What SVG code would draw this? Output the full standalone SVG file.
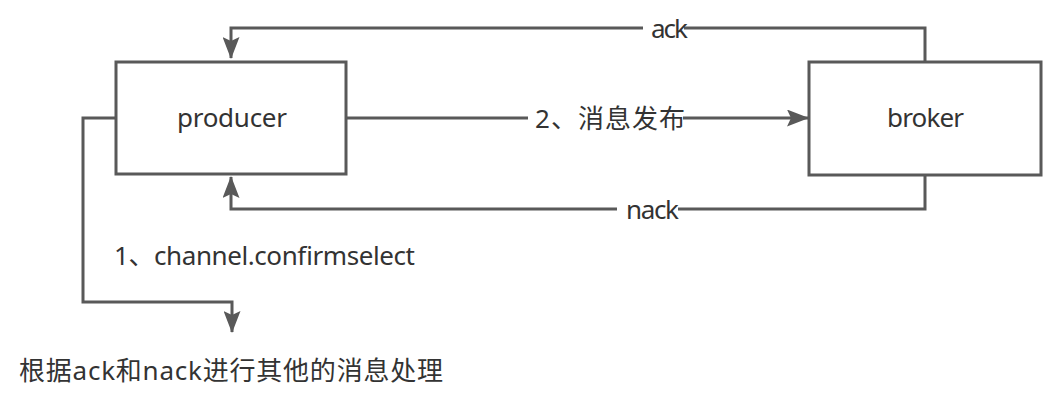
<svg xmlns="http://www.w3.org/2000/svg" width="1057" height="403" viewBox="0 0 1057 403">
<style>
.box{fill:#fff;stroke:#595959;stroke-width:3}
.ln{fill:none;stroke:#595959;stroke-width:3;stroke-linejoin:miter}
text{font-family:"Noto Sans","Noto Sans CJK SC",sans-serif;font-size:26px;fill:#333}
</style>
<defs>
<marker id="arr" viewBox="0 0 22 17" refX="21" refY="8.5" markerWidth="22" markerHeight="17" markerUnits="userSpaceOnUse" orient="auto">
<path d="M0,0 L22,8.5 L0,17 L4,8.5 Z" fill="#595959"/>
</marker>
</defs>
<g id="connectors">
<path class="ln" d="M925,61 V28 H684 M643,28 H231 V58" marker-end="url(#arr)"/>
<path class="ln" d="M347,118 H528 M683,118 H808" marker-end="url(#arr)"/>
<path class="ln" d="M925,175 V209 H678 M617,209 H231 V177" marker-end="url(#arr)"/>
<path class="ln" d="M116,118 H83 V302 H232 V332" marker-end="url(#arr)"/>
<text x="651" y="38" textLength="37">ack</text>
<text x="626" y="219" textLength="53">nack</text>
<text x="535" y="128" textLength="150">2、消息发布</text>
<text x="114" y="265" textLength="301">1、channel.confirmselect</text>
</g>
<g id="producer">
<rect class="box" x="116" y="62" width="230" height="112"/>
<text x="177" y="127" textLength="110">producer</text>
</g>
<g id="broker">
<rect class="box" x="809" y="62" width="232" height="113"/>
<text x="887" y="127" textLength="77">broker</text>
</g>
<g id="result">
<text x="19" y="380" textLength="424">根据ack和nack进行其他的消息处理</text>
</g>
</svg>
